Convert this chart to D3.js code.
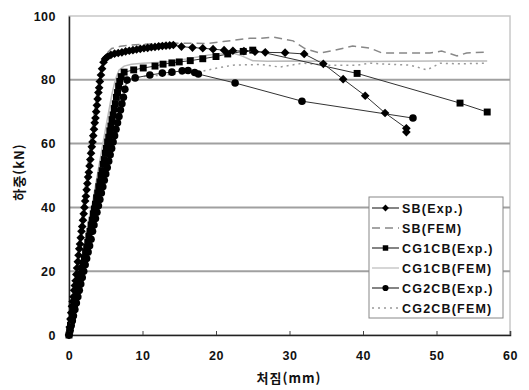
<!doctype html>
<html lang="ko">
<head>
<meta charset="utf-8">
<script src="https://d3js.org/d3.v7.min.js"></script>
<style>
  body { margin: 0; background: #fff; }
  text { font-family: "Liberation Sans", Arial, sans-serif; font-weight: bold; fill: #111; }
  .kr { font-family: "Noto Sans CJK KR", sans-serif; font-weight: bold; }
</style>
</head>
<body>
<svg id="chart" width="529" height="390"></svg>
<script>
// load-deflection data [deflection mm, load kN]
var sbExp = [[0,0],[0.1,2.5],[0.2,5],[0.3,7],[0.4,9],[0.5,10.5],[0.6,12],[0.7,14],[0.8,15.5],[0.9,17],[1.0,19],[1.1,21],[1.2,23],[1.3,25],[1.4,27],[1.5,28.5],[1.6,30.5],[1.7,32.5],[1.8,34],[1.9,36],[2.0,38],[2.1,40],[2.2,42],[2.3,43.5],[2.4,45.5],[2.5,47.5],[2.6,49.5],[2.7,51],[2.8,53],[2.9,55],[3.0,57],[3.1,59],[3.2,60.5],[3.3,62.5],[3.4,64.5],[3.5,66.5],[3.6,68],[3.7,70],[3.8,72],[3.9,74],[4.0,76],[4.1,77.5],[4.2,79.5],[4.35,81.5],[4.5,83.5],[4.7,85.5],[4.9,86.5],[5.1,87],[5.3,87.3],[5.7,87.8],[6.2,88.2],[6.7,88.4],[7.2,88.6],[7.7,88.9],[8.2,89.1],[8.7,89.3],[9.2,89.5],[9.7,89.7],[10.2,89.9],[10.7,90.0],[11.2,90.2],[11.7,90.3],[12.2,90.5],[12.7,90.6],[13.2,90.7],[13.7,90.8],[14.2,90.9],[15.3,90.4],[16.8,90.1],[18.2,89.9],[19.6,89.6],[21.1,89.3],[22.3,89.1],[23.8,89.0],[25.3,88.8],[26.7,88.6],[29.4,88.5],[32.0,88.1],[34.6,85.0],[37.3,80.2],[40.3,75.0],[43.0,69.6],[45.9,64.8],[45.9,63.6]];
var sbFem = [[0,0],[1,21],[2,42],[3,62],[3.8,76],[4.4,84],[5.0,88],[5.8,89.8],[7,90.5],[8.5,90.9],[11,91.2],[14.2,91.5],[18.8,91.4],[21,92.0],[24.6,93.0],[26,93.0],[27.8,93.4],[30.5,92.2],[32.1,89.8],[34.1,88.4],[36.2,89.3],[38.6,90.6],[41.0,89.9],[42.6,88.4],[45.4,88.4],[49.1,88.4],[50.7,89.0],[52.8,87.5],[54.1,88.4],[56.9,88.7]];
var cg1Exp = [[0,0],[0.1,1.5],[0.2,3],[0.3,4.5],[0.45,6],[0.6,8],[0.75,9.5],[0.9,11],[1.05,12.5],[1.2,14],[1.35,16],[1.5,17.5],[1.65,19],[1.8,21],[1.95,22.5],[2.1,24],[2.25,26],[2.4,27.5],[2.55,29],[2.7,31],[2.85,32.5],[3.0,34.5],[3.15,36],[3.3,38],[3.45,39.5],[3.6,41],[3.75,43],[3.9,44.5],[4.05,46.5],[4.2,48],[4.35,50],[4.5,51.5],[4.65,53.5],[4.8,55],[4.95,57],[5.1,58.5],[5.25,60.5],[5.4,62],[5.55,64],[5.7,65.5],[5.85,67.5],[6.0,69],[6.15,71],[6.3,72.5],[6.45,74.5],[6.6,76],[6.75,78],[6.9,79.5],[7.1,81],[7.5,82.4],[8.8,83.1],[10.1,83.7],[11.7,84.3],[12.8,84.9],[14.0,85.3],[15.0,85.6],[16.5,86.0],[18.2,86.6],[20.0,87.3],[21.6,88.1],[23.7,88.9],[25.0,89.3],[39.2,82.0],[53.2,72.7],[56.9,69.9]];
var cg1Fem = [[0,0],[1,13],[2,26],[3,39],[4,52],[5,65],[5.8,75],[6.3,80],[6.8,83],[7.5,84.3],[8.5,84.9],[10,85.2],[13.3,85.6],[16,86.5],[19,87.8],[22.3,88.4],[23.5,87.5],[25,86.0],[27,85.8],[30,85.9],[35,85.8],[40,85.7],[45,85.8],[50,85.9],[56.9,85.9]];
var cg2Exp = [[0,0],[0.15,1.5],[0.3,3],[0.45,4.5],[0.6,6],[0.8,8],[1.0,10],[1.2,12],[1.4,14],[1.6,16],[1.8,18],[2.0,20],[2.2,22],[2.4,24],[2.6,26],[2.8,28],[3.0,30],[3.2,32.5],[3.4,34.5],[3.6,36.5],[3.8,38.5],[4.0,40.5],[4.2,42.5],[4.4,44.5],[4.6,46.5],[4.8,48.5],[5.0,50.5],[5.2,52.5],[5.4,54.5],[5.6,56.5],[5.8,58.5],[6.0,60.5],[6.2,62.5],[6.4,64.5],[6.6,66.5],[6.8,68.5],[7.0,70.5],[7.2,72.5],[7.4,74.5],[7.6,77],[7.9,79.9],[9.0,80.6],[11.0,81.5],[12.7,82.1],[14.0,82.4],[15.4,82.8],[16.2,82.9],[17.1,82.3],[17.6,81.8],[22.6,79.0],[31.7,73.3],[46.8,68.0]];
var cg2Fem = [[0,0],[1,11.5],[2,23],[3,34.5],[4,46],[5,57.5],[6,69],[6.6,76],[7.2,79.5],[8,80.5],[10,81],[14,81.7],[17.8,82.5],[20,83.6],[22.3,84.6],[26,84.8],[28.7,84.0],[31.8,85.2],[35.1,84.6],[39.2,84.6],[41.0,85.2],[44,84.8],[46.4,84.6],[48.7,83.1],[50.5,85.2],[53,85.0],[56.9,85.2]];

var xTicks = [0, 10, 20, 30, 40, 50, 60];
var yTicks = [0, 20, 40, 60, 80, 100];
var legendNames = ["SB(Exp.)", "SB(FEM)", "CG1CB(Exp.)", "CG1CB(FEM)", "CG2CB(Exp.)", "CG2CB(FEM)"];

var svg = d3.select("#chart");
var pLeft = 69, pRight = 510, pTop = 16, pBottom = 335;

var x = d3.scaleLinear().domain([0, 60]).range([pLeft, pRight]);
var y = d3.scaleLinear().domain([0, 100]).range([pBottom, pTop]);

// frame + grid
svg.append("rect").attr("x", pLeft).attr("y", pTop).attr("width", pRight - pLeft).attr("height", pBottom - pTop)
  .attr("fill", "none").attr("stroke", "#c8c8c8").attr("stroke-width", 1.5);
svg.selectAll(".grid").data(yTicks.filter(function(d) { return d > 0 && d < 100; })).enter()
  .append("line").attr("x1", pLeft).attr("x2", pRight)
  .attr("y1", function(d) { return y(d); }).attr("y2", function(d) { return y(d); })
  .attr("stroke", "#a0a0a0").attr("stroke-width", 2);

// axes
var xAxis = svg.append("g").attr("transform", "translate(0," + pBottom + ")")
  .call(d3.axisBottom(x).tickValues(xTicks).tickSize(-4).tickPadding(16));
xAxis.select(".domain").attr("stroke", "#222").attr("stroke-width", 1.5);
xAxis.selectAll(".tick line").attr("stroke", "#444");
xAxis.selectAll("text").style("font-size", "12.5px").style("letter-spacing", "0.5px");

var yAxis = svg.append("g").attr("transform", "translate(" + pLeft + ",0)")
  .call(d3.axisLeft(y).tickValues(yTicks).tickSize(0).tickPadding(13));
yAxis.select(".domain").attr("stroke", "#222").attr("stroke-width", 1.5);
yAxis.selectAll("text").style("font-size", "12.5px").style("letter-spacing", "0.5px");

svg.append("text").attr("class", "kr").attr("x", 289).attr("y", 383).attr("text-anchor", "middle")
  .style("font-size", "13px").style("letter-spacing", "1px").text("처짐(mm)");
svg.append("text").attr("class", "kr").attr("transform", "translate(24,172) rotate(-90)").attr("text-anchor", "middle")
  .style("font-size", "13px").style("letter-spacing", "1px").text("하중(kN)");

var line = d3.line().x(function(d) { return x(d[0]); }).y(function(d) { return y(d[1]); });

// FEM curves
svg.append("path").datum(cg1Fem).attr("d", line).attr("fill", "none").attr("stroke", "#bbb").attr("stroke-width", 1.5);
svg.append("path").datum(cg2Fem).attr("d", line).attr("fill", "none").attr("stroke", "#999").attr("stroke-width", 1.5).attr("stroke-dasharray", "2,4");
svg.append("path").datum(sbFem).attr("d", line).attr("fill", "none").attr("stroke", "#888").attr("stroke-width", 1.5).attr("stroke-dasharray", "8,5");

// experimental curves with markers
function expSeries(data, sym, size) {
  svg.append("path").datum(data).attr("d", line).attr("fill", "none").attr("stroke", "#333").attr("stroke-width", 1);
  svg.selectAll(null).data(data).enter().append("path")
    .attr("transform", function(d) { return "translate(" + x(d[0]) + "," + y(d[1]) + ")"; })
    .attr("d", d3.symbol().type(sym).size(size)).attr("fill", "#000");
}
expSeries(cg2Exp, d3.symbolCircle, 45);
expSeries(cg1Exp, d3.symbolSquare, 48);
expSeries(sbExp, d3.symbolDiamond2, 48);

// legend
var lg = svg.append("g");
lg.append("rect").attr("x", 369).attr("y", 197).attr("width", 134).attr("height", 121)
  .attr("fill", "#fff").attr("stroke", "#888").attr("stroke-width", 1);
var styles = [
  { stroke: "#333", dash: null, sym: d3.symbolDiamond2, size: 30 },
  { stroke: "#888", dash: "8,5", sym: null },
  { stroke: "#333", dash: null, sym: d3.symbolSquare, size: 30 },
  { stroke: "#bbb", dash: null, sym: null },
  { stroke: "#333", dash: null, sym: d3.symbolCircle, size: 30 },
  { stroke: "#999", dash: "2,4", sym: null }
];
legendNames.forEach(function(name, i) {
  var ly = 208 + i * 20;
  lg.append("line").attr("x1", 372).attr("x2", 399).attr("y1", ly).attr("y2", ly)
    .attr("stroke", styles[i].stroke).attr("stroke-width", styles[i].dash ? 1.5 : 1.2)
    .attr("stroke-dasharray", styles[i].dash);
  if (styles[i].sym) {
    lg.append("path").attr("transform", "translate(385.5," + ly + ")")
      .attr("d", d3.symbol().type(styles[i].sym).size(styles[i].size)).attr("fill", "#000");
  }
  lg.append("text").attr("x", 402).attr("y", ly + 4.5).style("font-size", "12.5px").style("letter-spacing", "1.2px").text(name);
});
</script>
</body>
</html>
